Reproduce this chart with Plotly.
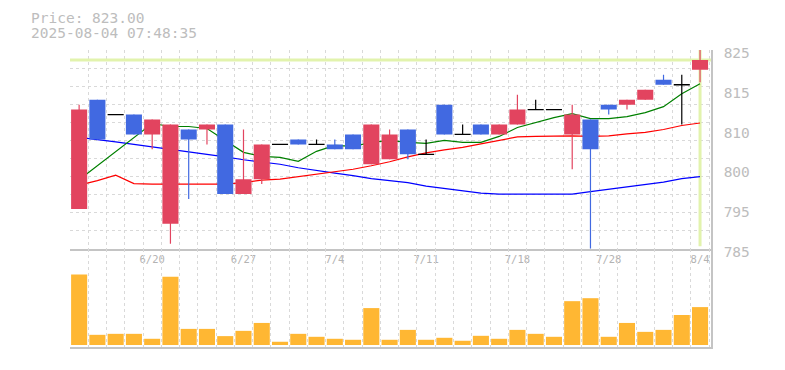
import plotly.graph_objects as go

# ---------------- data ----------------
dates = ["6/16", "6/17", "6/18", "6/19", "6/20", "6/23", "6/24", "6/25", "6/26", "6/27",
         "6/30", "7/1", "7/2", "7/3", "7/4", "7/7", "7/8", "7/9", "7/10", "7/11",
         "7/14", "7/15", "7/16", "7/17", "7/18", "7/22", "7/23", "7/24", "7/25", "7/28",
         "7/29", "7/30", "7/31", "8/1", "8/4"]
label_dates = ["6/20", "6/27", "7/4", "7/11", "7/18", "7/28", "8/4"]

opens = [793, 815, 812, 812, 808, 790, 809, 809, 810, 796,
         799, 806, 807, 806, 806, 808, 802, 803, 809, 804,
         814, 808, 810, 808, 810, 813, 813, 808, 811, 814,
         814, 815, 819, 818, 821]
highs = [814, 815, 812, 812, 811, 810, 809, 810, 810, 809,
         806, 806, 807, 807, 807, 808, 810, 809, 809, 807,
         814, 810, 810, 810, 816, 815, 813, 814, 811, 814,
         815, 817, 820, 820, 825]
lows = [793, 807, 812, 808, 805, 786, 795, 806, 796, 796,
        798, 806, 806, 806, 805, 805, 802, 803, 803, 804,
        808, 808, 808, 808, 810, 813, 813, 801, 785, 812,
        813, 815, 818, 810, 818.5]
closes = [813, 807, 812, 808, 811, 810, 807, 810, 796, 799,
          806, 806, 806, 806, 805, 805, 810, 808, 804, 804,
          808, 808, 808, 810, 813, 813, 813, 812, 805, 813,
          815, 817, 818, 818, 823]
volume = [713, 103, 113, 113, 63, 690, 163, 163, 90, 143,
          223, 33, 113, 83, 63, 53, 373, 53, 153, 53,
          73, 43, 93, 63, 153, 113, 83, 443, 473, 83,
          223, 133, 153, 303, 383]
ma5 = [798.9, 801.7, 804.5, 807.3, 810.2, 809.6, 809.6, 809.2, 806.8, 804.4,
       803.6, 803.4, 802.6, 804.6, 805.8, 805.6, 806.4, 806.8, 806.4, 806.2,
       806.8, 806.4, 806.4, 807.6, 809.4, 810.4, 811.4, 812.2, 811.2, 811.2,
       811.6, 812.4, 813.6, 816.2, 818.2]
ma25 = [797.8, 798.7, 799.8, 798.1, 798.0, 798.0, 798.0, 798.1, 798.0, 798.3,
        798.8, 799.0, 799.5, 800.1, 800.5, 801.0, 801.7, 802.5, 803.5, 804.3,
        804.9, 805.4, 806.1, 806.8, 807.5, 807.6, 807.7, 807.7, 807.6, 807.7,
        808.1, 808.4, 809.0, 809.8, 810.3]
ma75 = [807.4, 807.0, 806.5, 806.0, 805.5, 805.0, 804.6, 804.0, 803.5, 802.9,
        802.5, 802.0, 801.3, 800.7, 800.2, 799.7, 799.1, 798.7, 798.3, 797.6,
        797.1, 796.7, 796.2, 796.0, 796.0, 796.0, 796.0, 796.0, 796.5, 797.0,
        797.5, 797.9, 798.4, 799.1, 799.5]
price_ticks = [785, 793, 801, 809, 817, 825]
price_tick_text = ["785", "795", "800", "810", "815", "825"]
timestamp = "2025-08-04 07:48:35"

# ---------------- styling ----------------
UP = "#e2445f"
DOWN = "#4169e1"
EVEN = "#000000"
VOL = "#ffb733"
GRID = "#d9d9d9"
AXIS = "#c4c4c4"
HILITE = "#e2f3ad"
FONT = "DejaVu Sans Mono"
BODY_W = 0.88
h = BODY_W / 2

idx = list(range(len(dates)))
W, H = 785, 370
ML, MR, MT, MB = 70, 74, 50, 20
plot_h = H - MT - MB
main_bottom = (H - MB - 250.7) / plot_h
xrange_ = [-0.5, idx[-1] + 0.6]


def colour(i):
    if closes[i] > opens[i]:
        return UP
    if closes[i] < opens[i]:
        return DOWN
    return EVEN


fig = go.Figure()

# current price highlight (drawn first so it sits under everything else)
fig.add_trace(go.Scatter(x=xrange_, y=[closes[-1], closes[-1]], mode="lines",
                         line=dict(color=HILITE, width=3), hoverinfo="skip",
                         showlegend=False, cliponaxis=True, xaxis="x", yaxis="y"))
fig.add_trace(go.Scatter(x=[idx[-1], idx[-1]], y=[785.5, 825], mode="lines",
                         line=dict(color=HILITE, width=3), hoverinfo="skip",
                         showlegend=False, xaxis="x", yaxis="y"))

# moving averages
for vals, col in [(ma75, "#0000ff"), (ma25, "#ff0000"), (ma5, "#008000")]:
    fig.add_trace(go.Scatter(x=idx, y=vals, mode="lines", line=dict(color=col, width=1.2),
                             hoverinfo="skip", showlegend=False, xaxis="x", yaxis="y"))

# wicks
for col in (UP, DOWN, EVEN):
    xs, ys = [], []
    for i in idx:
        if colour(i) == col and highs[i] > lows[i]:
            xs += [i, i, None]
            ys += [lows[i], highs[i], None]
    if xs:
        fig.add_trace(go.Scatter(x=xs, y=ys, mode="lines", line=dict(color=col, width=1.2),
                                 hoverinfo="skip", showlegend=False, xaxis="x", yaxis="y"))

# bodies
for col in (UP, DOWN):
    xs, ys = [], []
    for i in idx:
        if colour(i) == col:
            lo, hi = min(opens[i], closes[i]), max(opens[i], closes[i])
            xs += [i - h, i + h, i + h, i - h, i - h, None]
            ys += [lo, lo, hi, hi, lo, None]
    fig.add_trace(go.Scatter(x=xs, y=ys, mode="lines", fill="toself", fillcolor=col,
                             line=dict(width=0, color=col), hoverinfo="skip",
                             showlegend=False, xaxis="x", yaxis="y"))

# doji bodies
xs, ys = [], []
for i in idx:
    if colour(i) == EVEN:
        xs += [i - h, i + h, None]
        ys += [opens[i], opens[i], None]
fig.add_trace(go.Scatter(x=xs, y=ys, mode="lines", line=dict(color=EVEN, width=1.3),
                         hoverinfo="skip", showlegend=False, xaxis="x", yaxis="y"))

# volume
fig.add_trace(go.Bar(x=idx, y=volume, width=BODY_W, marker=dict(color=VOL, line=dict(width=0)),
                     hoverinfo="skip", showlegend=False, xaxis="x2", yaxis="y2"))

xgrid = [i - 0.5 for i in idx] + [idx[-1] + 0.5]
ygrid = [785 + 40 / 11 * j for j in range(1, 12)]
ygrid[-1] = 824.9

common_x = dict(range=xrange_, showgrid=False, zeroline=False, ticks="",
                showline=True, linecolor=AXIS, linewidth=1.5,
                minor=dict(tickvals=xgrid, showgrid=True, gridcolor=GRID, griddash="3px,3px",
                           gridwidth=1, ticks=""))

fig.update_layout(
    width=W, height=H,
    margin=dict(l=ML, r=MR, t=MT, b=MB),
    paper_bgcolor="white", plot_bgcolor="white",
    showlegend=False,
    xaxis=dict(common_x, domain=[0, 1], anchor="y",
               tickmode="array", tickvals=[dates.index(d) for d in label_dates],
               ticktext=label_dates, tickfont=dict(family=FONT, size=10.5, color="#b3b3b3")),
    xaxis2=dict(common_x, domain=[0, 1], anchor="y2", matches="x", showticklabels=False),
    yaxis=dict(domain=[main_bottom, 1], range=[785, 825], side="right", anchor="x",
               tickmode="array", tickvals=price_ticks, ticktext=price_tick_text,
               tickfont=dict(family=FONT, size=14.5, color="#bdbdbd"),
               ticks="", ticklabelstandoff=8, ticklabelshift=3,
               showgrid=False, zeroline=False, showline=True, linecolor=AXIS, linewidth=1.5,
               minor=dict(tickvals=ygrid, showgrid=True, gridcolor=GRID, griddash="3px,3px",
                          gridwidth=1, ticks="")),
    yaxis2=dict(domain=[0, main_bottom], range=[-20, 973], side="right", anchor="x2",
                showticklabels=False, showgrid=False, zeroline=False, ticks="",
                showline=True, linecolor=AXIS, linewidth=1.5),
    annotations=[
        dict(text=f"Price: {closes[-1]:.2f}", xref="paper", yref="paper",
             x=(29 - ML) / (W - ML - MR), y=(H - MB - 18) / plot_h,
             xanchor="left", yanchor="middle", showarrow=False,
             font=dict(family=FONT, size=14.5, color="#bdbdbd")),
        dict(text=timestamp, xref="paper", yref="paper",
             x=(29 - ML) / (W - ML - MR), y=(H - MB - 33) / plot_h,
             xanchor="left", yanchor="middle", showarrow=False,
             font=dict(family=FONT, size=14.5, color="#bdbdbd")),
    ],
)

fig.write_html("out.html")
